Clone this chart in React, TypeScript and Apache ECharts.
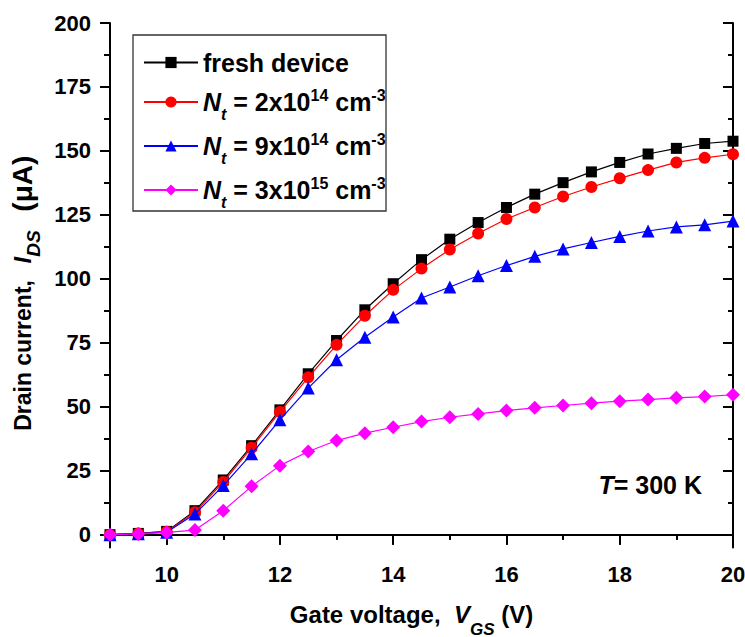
import React, { useEffect, useRef } from "react";
import * as echarts from "echarts";

const voltages = [9, 9.5, 10, 10.5, 11, 11.5, 12, 12.5, 13, 13.5, 14, 14.5, 15, 15.5, 16, 16.5, 17, 17.5, 18, 18.5, 19, 19.5, 20];
const freshDevice = [0, 0.5, 1.3, 9.4, 21.4, 34.8, 48.8, 62.9, 75.9, 87.9, 98.1, 107.5, 115.5, 122, 127.9, 133.1, 137.6, 141.8, 145.5, 148.8, 151, 152.9, 153.8];
const nt2e14 = [0, 0.5, 1.2, 8.8, 20.6, 34, 48, 61.5, 74.2, 85.6, 95.7, 104, 111.5, 117.7, 123.4, 127.9, 132.2, 135.9, 139.3, 142.5, 145.5, 147.3, 148.7];
const nt9e14 = [0, 0.4, 1.0, 8.1, 19.2, 31.6, 44.9, 57.3, 68.4, 77.2, 85.1, 92.5, 96.8, 101.2, 105.2, 108.8, 111.7, 114.2, 116.6, 118.7, 120.3, 121.1, 122.6];
const nt3e15 = [0, 0.3, 0.9, 1.8, 9.4, 18.9, 27, 32.5, 36.8, 39.7, 42, 44.2, 45.9, 47.2, 48.5, 49.6, 50.5, 51.4, 52.2, 52.8, 53.5, 54, 54.7];

const seriesNames = ["fresh device", "Nt = 2x10^14", "Nt = 9x10^14", "Nt = 3x10^15"];
const legendLabels = [
  "{p|fresh device}",
  "{i|N}{sub|t}{b| = 2x10}{sup|14}{b| cm}{sup|-3}",
  "{i|N}{sub|t}{b| = 9x10}{sup|14}{b| cm}{sup|-3}",
  "{i|N}{sub|t}{b| = 3x10}{sup|15}{b| cm}{sup|-3}",
];
const xMajorTicks = [10, 12, 14, 16, 18, 20];
const xMinorTicks = [11, 13, 15, 17, 19];
const yMajorTicks = [0, 25, 50, 75, 100, 125, 150, 175, 200];
const yMinorTicks = [12.5, 37.5, 62.5, 87.5, 112.5, 137.5, 162.5, 187.5];

const FONT = "'Liberation Sans', Arial, sans-serif";

export default function App() {
  const ref = useRef<HTMLDivElement>(null);
  useEffect(() => {
    if (!ref.current) return;
    const chart = echarts.init(ref.current, undefined, { renderer: "svg" });
    const black = "#000";
    const mk = (data: number[]) => voltages.map((v, i) => [v, data[i]]);
    const xAxisBase = { type: "value" as const, min: 9, max: 20, splitLine: { show: false } };
    const yAxisBase = { type: "value" as const, min: -5, max: 200, splitLine: { show: false } };
    const lineStyleAxis = { show: true, lineStyle: { color: black, width: 2 } };
    const labelStyle = { fontSize: 22, fontWeight: "bold" as const, color: black, fontFamily: FONT };
    const B = { fontWeight: "bold" as const, color: black, fontFamily: FONT };
    const xTitleRich = {
      b: { ...B, fontSize: 24 },
      i: { ...B, fontSize: 24, fontStyle: "italic" as const },
      sub: { ...B, fontSize: 17, fontStyle: "italic" as const, padding: [30, 0, 0, 0] },
    };
    const yTitleRich = {
      b: { ...B, fontSize: 23 },
      gap: { ...B, fontSize: 24, padding: [0, 5, 0, 5] },
      gap2: { ...B, fontSize: 24, padding: [0, 6, 0, 6] },
      i: { ...B, fontSize: 24, fontStyle: "italic" as const },
      sub: { ...B, fontSize: 19, fontStyle: "italic" as const, padding: [22, 0, 0, 0] },
      u: { ...B, fontSize: 28 },
    };
    const legendRich = {
      p: { ...B, fontSize: 25 },
      b: { ...B, fontSize: 25 },
      i: { ...B, fontSize: 25, fontStyle: "italic" as const },
      sub: { ...B, fontSize: 16, fontStyle: "italic" as const, padding: [24, 0, 0, 0] },
      sup: { ...B, fontSize: 16, padding: [0, 0, 14, 0] },
    };

    const colors = ["#000000", "#ff0000", "#0000ff", "#ff00ff"];
    const symbols = ["rect", "circle", "triangle", "diamond"];
    const sizes = [11, 12, 13, 14];
    const datasets = [freshDevice, nt2e14, nt9e14, nt3e15];
    const tickLine = { color: black, width: 2 };
    const legendTops = [50, 87, 131, 175];

    chart.setOption({
      animation: false,
      textStyle: { fontFamily: FONT },
      grid: { left: 110, right: 12, top: 23, bottom: 89.5, outerBoundsMode: "none" },
      legend: seriesNames.map((name, i) => ({
        orient: "vertical",
        left: 143,
        top: legendTops[i],
        padding: 0,
        itemWidth: 54,
        itemHeight: 14,
        selectedMode: false,
        data: [name],
        formatter: () => legendLabels[i],
        textStyle: { ...B, fontSize: 25, rich: legendRich },
      })),
      xAxis: [
        {
          ...xAxisBase,
          position: "bottom",
          axisLine: lineStyleAxis,
          axisTick: { show: true, inside: false, length: 10, customValues: xMajorTicks, lineStyle: tickLine },
          axisLabel: { show: true, margin: 16, customValues: xMajorTicks, ...labelStyle },
          name: "{b|Gate voltage,  }{i|V}{sub|GS}{b| (V)}",
          nameLocation: "middle",
          nameGap: 43,
          nameTextStyle: { rich: xTitleRich, padding: [0, 20, 0, 0] },
        },
        {
          ...xAxisBase,
          position: "bottom",
          axisLine: { show: false },
          axisTick: { show: true, inside: false, length: 5, customValues: xMinorTicks, lineStyle: tickLine },
          axisLabel: { show: false },
        },
        {
          ...xAxisBase,
          position: "top",
          axisLine: lineStyleAxis,
          axisTick: { show: true, inside: true, length: 10, customValues: xMajorTicks, lineStyle: tickLine },
          axisLabel: { show: false },
        },
        {
          ...xAxisBase,
          position: "top",
          axisLine: { show: false },
          axisTick: { show: true, inside: true, length: 5, customValues: xMinorTicks, lineStyle: tickLine },
          axisLabel: { show: false },
        },
      ],
      yAxis: [
        {
          ...yAxisBase,
          position: "left",
          axisLine: lineStyleAxis,
          axisTick: { show: true, inside: false, length: 10, customValues: yMajorTicks, lineStyle: tickLine },
          axisLabel: { show: true, margin: 19, customValues: yMajorTicks, ...labelStyle },
          name: "{b|Drain current,}{gap| }{i|I}{sub|DS}{gap2| }{u|(μA)}",
          nameLocation: "middle",
          nameRotate: 90,
          nameGap: 64,
          nameTextStyle: { rich: yTitleRich, padding: [0, 16, 0, 0] },
        },
        {
          ...yAxisBase,
          position: "left",
          axisLine: { show: false },
          axisTick: { show: true, inside: false, length: 6, customValues: yMinorTicks, lineStyle: tickLine },
          axisLabel: { show: false },
        },
        {
          ...yAxisBase,
          position: "right",
          axisLine: lineStyleAxis,
          axisTick: { show: true, inside: true, length: 10, customValues: yMajorTicks, lineStyle: tickLine },
          axisLabel: { show: false },
        },
        {
          ...yAxisBase,
          position: "right",
          axisLine: { show: false },
          axisTick: { show: true, inside: true, length: 5, customValues: yMinorTicks, lineStyle: tickLine },
          axisLabel: { show: false },
        },
      ],
      series: datasets.map((d, i) => ({
        name: seriesNames[i],
        type: "line",
        xAxisIndex: 0,
        yAxisIndex: 0,
        data: mk(d),
        symbol: symbols[i],
        symbolSize: sizes[i],
        showAllSymbol: true,
        lineStyle: { color: colors[i], width: 1.2 },
        itemStyle: { color: colors[i] },
        emphasis: { disabled: true },
        z: 2 + i,
      })),
      graphic: [
        {
          type: "rect",
          shape: { x: 133, y: 35, width: 253, height: 176 },
          style: { fill: "none", stroke: "#333", lineWidth: 1.3 },
          z: 1,
        },
        {
          type: "text",
          x: 702,
          y: 485,
          style: {
            text: "{i|T}{b|= 300 K}",
            align: "right",
            verticalAlign: "middle",
            rich: {
              i: { fontSize: 25, fontWeight: "bold", fontStyle: "italic", fill: black, fontFamily: FONT },
              b: { fontSize: 25, fontWeight: "bold", fill: black, fontFamily: FONT },
            },
          },
        },
      ],
    });
    return () => chart.dispose();
  }, []);
  return <div ref={ref} style={{ position: "fixed", left: 0, top: 0, width: 745, height: 637, background: "#fff" }} />;
}
